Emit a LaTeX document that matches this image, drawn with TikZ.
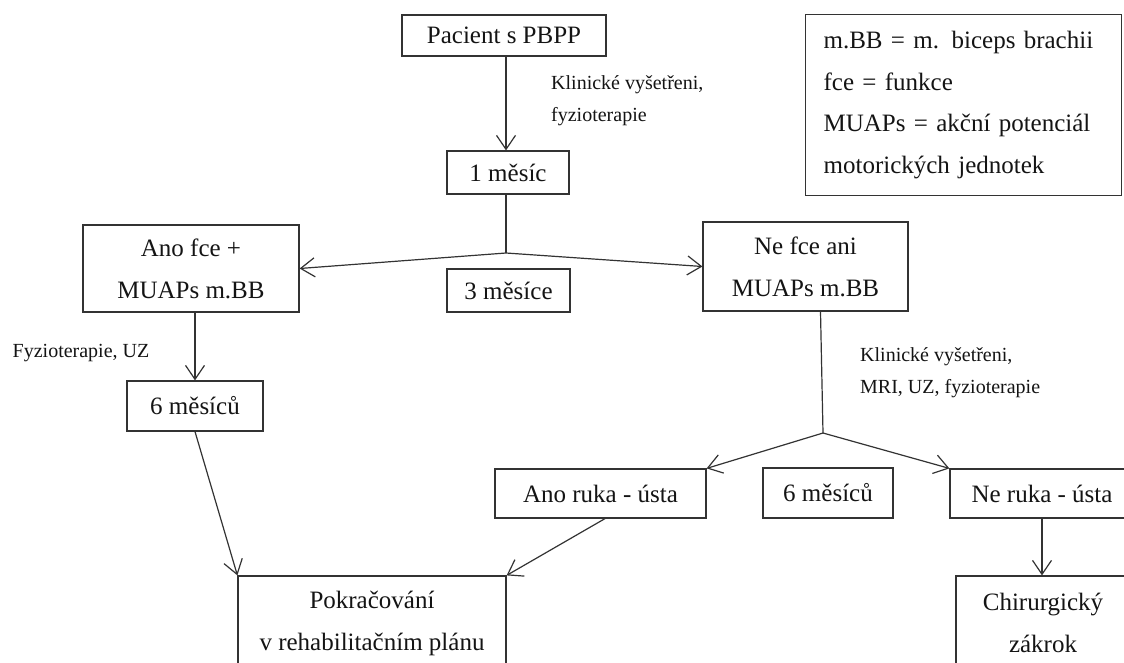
\documentclass[tikz,border=0pt]{standalone}
\usepackage{fontspec}
\setmainfont{Liberation Serif}
\usetikzlibrary{arrows.meta,calc}
\definecolor{linec}{HTML}{333333}
\definecolor{textc}{HTML}{141414}
\newcommand\legfont{\fontsize{25}{41.7}\selectfont\spaceskip=0.14em\relax}
\tikzset{
  box/.style={draw=linec, line width=1.2pt, inner sep=0pt, align=center,
    font=\fontsize{25}{42}\selectfont, text=textc},
  lbl/.style={font=\fontsize{20}{32}\selectfont, align=left, anchor=west,
    inner sep=0pt, text=textc},
  arr/.style={draw=linec, line width=1.2pt,
    -{Straight Barb[length=14pt,width=19pt,line width=1.2pt]}},
  conn/.style={draw=linec, line width=1.2pt},
}
\begin{document}
\begin{tikzpicture}[x=1pt,y=-1pt]
\useasboundingbox (0,0) rectangle (1124,662);
\clip (0,0) rectangle (1124,662);
\fill[white] (0,0) rectangle (1124,662);

% nodes
\node[box, minimum width=204pt, minimum height=41pt] (pac) at (504,35.5) {Pacient s PBPP};
\node[box, minimum width=122pt, minimum height=43pt] (m1) at (508,172.5) {1 měsíc};
\coordinate (j1) at (506,253);
\node[box, minimum width=216pt, minimum height=87pt] (ano) at (191,268.5) {Ano fce +\\MUAPs m.BB};
\node[box, minimum width=123pt, minimum height=43pt] (m3) at (508.5,290.5) {3 měsíce};
\node[box, minimum width=205pt, minimum height=89pt] (ne) at (805.5,266.5) {Ne fce ani\\MUAPs m.BB};
\node[box, anchor=north west, minimum width=316pt, minimum height=181pt,
  text width=280pt, inner xsep=18pt, align=left, font=\legfont] (leg) at (805,14)
  {m.BB = m. biceps brachii\\fce = funkce\\MUAPs = akční potenciál\\motorických jednotek};

\node[lbl] (l1) at (551,101) {Klinické vyšetřeni,\\fyzioterapie};
\node[lbl] (l2) at (12.5,353) {Fyzioterapie, UZ};
\node[lbl] (l3) at (860,372.5) {Klinické vyšetřeni,\\MRI, UZ, fyzioterapie};

\node[box, minimum width=136pt, minimum height=50pt] (b6) at (195,406) {6 měsíců};
\node[box, minimum width=268pt, minimum height=94pt] (pok) at (372,623) {Pokračování\\v rehabilitačním plánu};
\coordinate (j2) at (823,433);
\node[box, minimum width=211pt, minimum height=49pt] (ar) at (600.5,493.5) {Ano ruka - ústa};
\node[box, minimum width=130pt, minimum height=50pt] (m6) at (828,493) {6 měsíců};
\node[box, minimum width=184pt, minimum height=49pt] (nr) at (1042,493.5) {Ne ruka - ústa};
\node[box, minimum width=174pt, minimum height=94pt] (chir) at (1043,623) {Chirurgický\\zákrok};

% connectors
\draw[arr] (pac.south -| j1) -- (m1.north -| j1);
\draw[conn] (m1.south -| j1) -- (j1);
\draw[arr] (j1) -- (ano.east);
\draw[arr] (j1) -- (ne.west);
\draw[arr] (ano.south -| b6) -- (b6.north);
\draw[arr] (b6.south) -- (pok.north west);
\draw[conn] ($(ne.south)+(15,0)$) -- (j2);
\draw[arr] (j2) -- (ar.north east);
\draw[arr] (j2) -- (nr.north west);
\draw[arr] ($(ar.south)+(4.5,0)$) -- (pok.north east);
\draw[arr] (nr.south) -- (chir.north -| nr.south);
\end{tikzpicture}
\end{document}
